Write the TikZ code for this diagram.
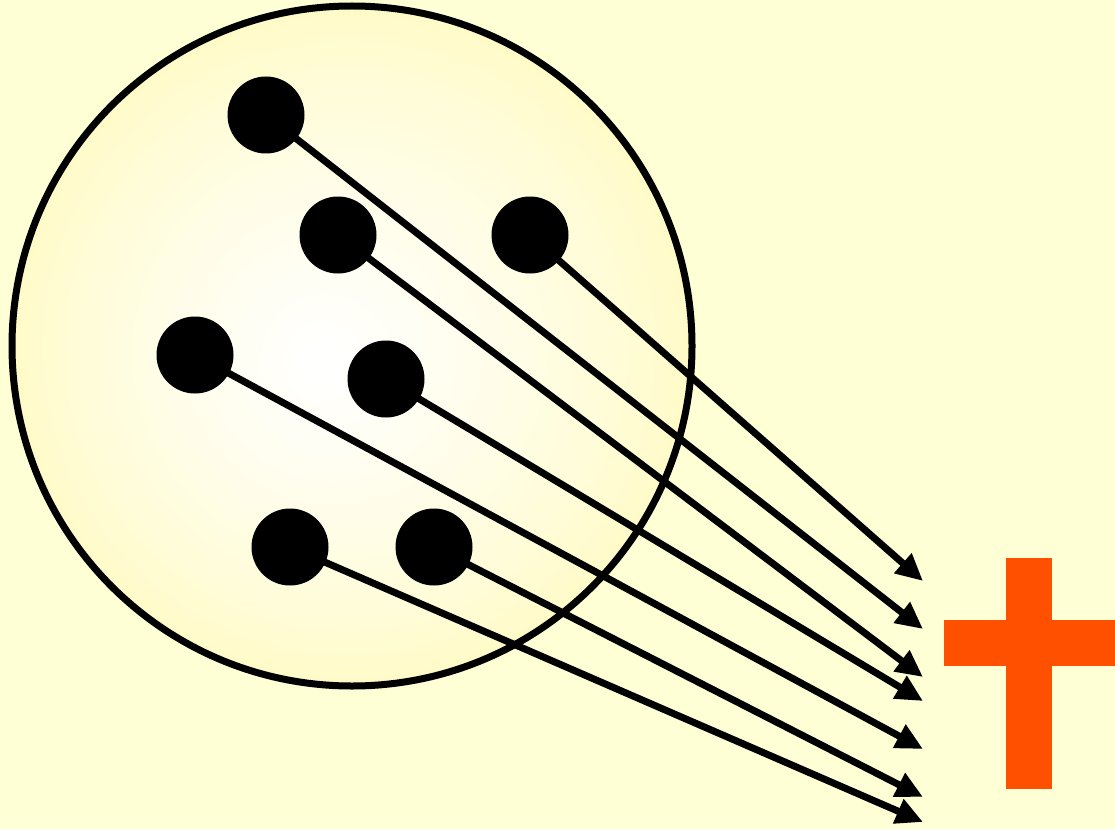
\documentclass[tikz,border=0pt]{standalone}
\usetikzlibrary{arrows.meta}
\definecolor{bgyellow}{RGB}{255,255,213}
\definecolor{edgeyellow}{RGB}{255,251,200}
\definecolor{crossred}{RGB}{255,80,0}
\tikzset{
  dot/.style={circle, fill=black, minimum size=77pt, inner sep=0pt},
  ray/.style={line width=7pt, -{Triangle[length=27pt,width=25pt]}, shorten <=-2pt},
  rim/.style={line width=7pt},
}
\begin{document}
\begin{tikzpicture}[x=1pt,y=-1pt]
\fill[bgyellow] (0,0) rectangle (1115,829);
\useasboundingbox (0,0) rectangle (1115,829);
% radial gradient disc built from concentric fills
\foreach \k in {0,...,40}{
  \pgfmathsetmacro{\r}{340*(1-\k/41)}
  \pgfmathsetmacro{\cx}{352-32*\k/41}
  \pgfmathsetmacro{\cy}{346+18*\k/41}
  \pgfmathsetmacro{\p}{100*(\k/40)^0.8}
  \fill[white!\p!edgeyellow] (\cx,\cy) circle (\r);
}
\node[circle, draw, rim, minimum size=680pt, inner sep=0pt] (disc) at (352,346) {};
% dots
\node[dot] (d1) at (266,115) {};
\node[dot] (d2) at (338,235) {};
\node[dot] (d3) at (530,235) {};
\node[dot] (d4) at (195,355) {};
\node[dot] (d5) at (386,379) {};
\node[dot] (d6) at (290,547) {};
\node[dot] (d7) at (434,547) {};
% arrow tips
\coordinate (t3) at (923,581);
\coordinate (t1) at (923,629);
\coordinate (t2) at (923,677);
\coordinate (t5) at (923,701);
\coordinate (t4) at (923,749);
\coordinate (t7) at (923,797);
\coordinate (t6) at (923,822);
\foreach \i in {1,...,7}{\draw[ray] (d\i) -- (t\i);}
% cross
\fill[crossred] (1006,558) rectangle (1052,789);
\fill[crossred] (944,620) rectangle (1115,666);
\end{tikzpicture}
\end{document}
